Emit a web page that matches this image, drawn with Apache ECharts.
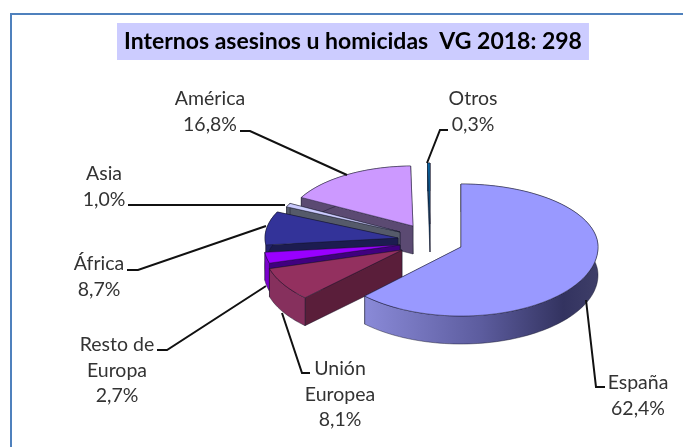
<!DOCTYPE html>
<html>
<head>
<meta charset="utf-8">
<style>
  html, body { margin: 0; padding: 0; background: #fff; }
  #chart { width: 683px; height: 447px; }
</style>
</head>
<body>
<div id="chart"></div>
<script src="https://cdn.jsdelivr.net/npm/echarts@6/dist/echarts.min.js"></script>
<script>
// valores
const categories = ["España", "Unión\nEuropea", "Resto de\nEuropa", "África", "Asia", "América", "Otros"];
const values = [62.4, 8.1, 2.7, 8.7, 1.0, 16.8, 0.3];
const titleText = "Internos asesinos u homicidas  VG 2018: 298";

// colores: cara superior, lateral, pared radial
const topColors = ["#9999ff", "#93305f", "#9900ff", "#333399", "#ccccff", "#cc99ff", "#0a6aa8"];
const sideColors = ["#6a6ab0", "#86305d", "#7a00cc", "#22226a", "#555a6a", "#5b4a72", "#0a4a78"];
const wallColors = ["#30305c", "#5a1e3a", "#40007f", "#1c1c50", "#555a6a", "#5b4a72", "#0a3f66"];

// porcion separada: vertice y radios [x, y, rx, ryFondo, ryFrente]
const sliceLayout = [
  [461, 247, 137, 63, 69],
  [402, 250, 138, 65, 67],
  [400, 245, 136, 65, 65],
  [398, 238, 133, 62, 62],
  [400, 232, 125, 60, 60],
  [413, 226, 127, 60, 60],
  [430, 224, 130, 61, 61]
];
const depth = 28;

// etiquetas: centro x, y de la primera linea
const labelLayout = [
  [638, 382], [340, 368], [117, 344], [99, 263], [104, 173], [210, 98], [473, 98]
];
const leaderLines = [
  [[586, 300], [596, 387], [605, 387]],
  [[282, 313], [302, 373], [310, 373]],
  [[266, 286], [167, 350], [157, 350]],
  [[266, 226], [138, 270], [127, 270]],
  [[285, 205], [128, 205]],
  [[347, 175], [250, 131], [240, 131]],
  [[427, 163], [440, 130], [448, 130]]
];

const total = values.reduce((a, b) => a + b, 0);
const startAngles = [];
let acc = 0;
values.forEach((v) => {
  startAngles.push(acc);
  acc += (v / total) * 360;
});

function outerPoint(i, deg) {
  const l = sliceLayout[i];
  const rad = (deg * Math.PI) / 180;
  const c = -Math.cos(rad);
  return [l[0] + Math.sin(rad) * l[2], l[1] + c * (c < 0 ? l[3] : l[4])];
}

function arcPoints(i, from, to) {
  const pts = [];
  const steps = Math.max(2, Math.ceil((to - from) / 2));
  for (let k = 0; k <= steps; k++) {
    pts.push(outerPoint(i, from + ((to - from) * k) / steps));
  }
  return pts;
}

const down = (p) => [p[0], p[1] + depth];
const edge = { stroke: "rgba(20,20,40,0.75)", lineWidth: 0.6 };

function renderSlice(params, api) {
  const i = api.value(1);
  const from = startAngles[i];
  const to = from + (values[i] / total) * 360;
  const apex = [sliceLayout[i][0], sliceLayout[i][1]];
  const arc = arcPoints(i, from, to);
  const first = arc[0];
  const last = arc[arc.length - 1];

  let sideFill = sideColors[i];
  if (i === 0) {
    sideFill = new echarts.graphic.LinearGradient(0, 0, 1, 0, [
      { offset: 0, color: "#8a8ad8" },
      { offset: 0.5, color: "#5c5c9e" },
      { offset: 0.85, color: "#333360" },
      { offset: 1, color: "#3e3e68" }
    ]);
  }
  const poly = (points, fill) => ({
    type: "polygon",
    shape: { points: points },
    style: Object.assign({ fill: fill }, edge)
  });
  return {
    type: "group",
    children: [
      poly([apex, last, down(last), down(apex)], wallColors[i]),
      poly([apex, first, down(first), down(apex)], wallColors[i]),
      poly(arc.concat(arc.map(down).reverse()), sideFill),
      poly([apex].concat(arc), topColors[i])
    ]
  };
}

// se pinta de atras hacia delante
const drawOrder = values.map((v, i) => [v, i]).reverse();

const labelText = (i) =>
  categories[i] + "\n" + values[i].toFixed(1).replace(".", ",") + "%";

const graphics = [
  {
    type: "polyline",
    silent: true,
    shape: { points: [[11, 447], [11, 14], [683, 14]] },
    style: { stroke: "#4f81bd", lineWidth: 2, fill: null }
  }
];
leaderLines.forEach((pts) => {
  graphics.push({
    type: "polyline",
    silent: true,
    z: 10,
    shape: { points: pts },
    style: { stroke: "#111", lineWidth: 2, fill: null }
  });
});
categories.forEach((c, i) => {
  graphics.push({
    type: "text",
    silent: true,
    z: 10,
    x: labelLayout[i][0],
    y: labelLayout[i][1] - 12,
    style: {
      text: labelText(i),
      fontFamily: "Lato",
      fontSize: 19.5,
      lineHeight: 25.5,
      fill: "#333",
      align: "center"
    }
  });
});

const chart = echarts.init(document.getElementById("chart"));
chart.setOption({
  animation: false,
  title: {
    text: titleText,
    left: 117,
    top: 23,
    padding: [7, 7, 7, 7],
    backgroundColor: "#ccccff",
    textStyle: {
      fontFamily: "Lato",
      fontSize: 23,
      fontWeight: "bold",
      color: "#000",
      lineHeight: 23
    }
  },
  graphic: graphics,
  series: [
    {
      type: "custom",
      coordinateSystem: "none",
      silent: true,
      renderItem: renderSlice,
      data: drawOrder
    }
  ]
});
</script>
</body>
</html>
